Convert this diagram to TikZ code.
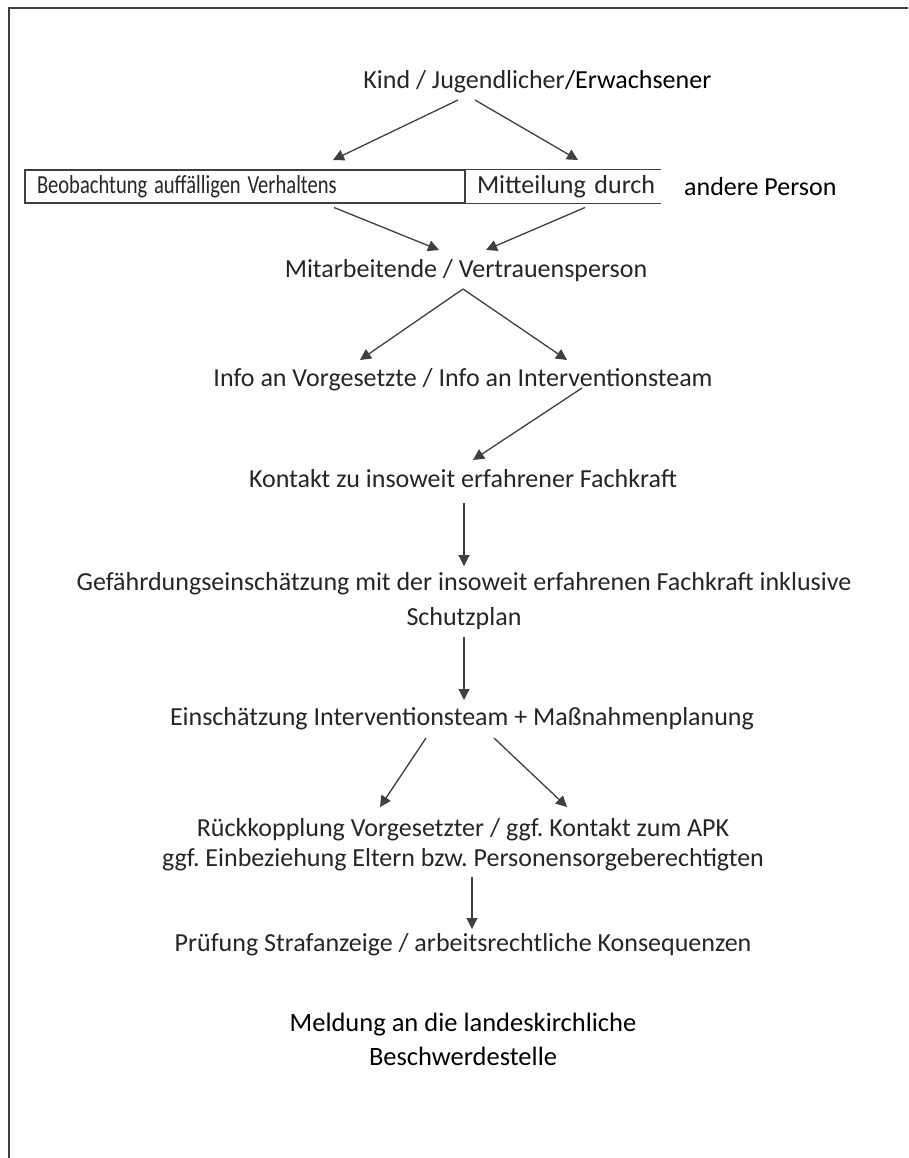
\documentclass[tikz,border=0pt]{standalone}
\usepackage{fontspec}
\usepackage{graphicx}
\setmainfont{Carlito}
\frenchspacing
\usetikzlibrary{arrows.meta}
\definecolor{ink}{HTML}{262626}
\definecolor{linegray}{HTML}{404040}

\begin{document}
\begin{tikzpicture}[
    x=1pt, y=-1pt,
    every node/.style={inner sep=0pt, text=ink},
    txt/.style={font=\fontsize{26}{31}\selectfont, align=center},
    boxtxt/.style={font=\fontsize{26}{30}\selectfont},
    arr/.style={linegray, line width=1.3pt, -{Triangle[length=11pt,width=11pt]}},
    frame/.style={linegray, line width=1.5pt},
  ]
  \useasboundingbox (0,0) rectangle (908,1158);
  % outer frame, open to the right and bottom
  \draw[frame] (908,8) -- (9,8) -- (9,1158);

  \node[txt, anchor=base east] (kind) at (565,89) {Kind / Jugendlicher};
  \node[txt, text=black, anchor=base west] (erw) at (kind.base east) {/Erwachsener};

  % split box
  \node[boxtxt, draw=linegray, line width=1.2pt, minimum width=440pt, minimum height=33pt,
        text width=428pt, inner xsep=6pt, align=left] (beob) at (245,186.5)
        {\hspace*{6pt}\scalebox{0.79}[1]{Beobachtung auffälligen Verhaltens}};
  \node[boxtxt, minimum width=196pt, minimum height=33pt,
        text width=186pt, inner xsep=5pt, align=left] (mitt) at (563,186.5)
        {\hspace*{7pt}Mitteilung durch};
  \draw[linegray, line width=1.2pt] (mitt.north west) -- (mitt.north east);
  \draw[linegray, line width=1.2pt] (mitt.south west) -- (mitt.south east);
  \node[boxtxt, text=black, anchor=west] (andere) at (684,187) {andere Person};

  \node[txt] (mitarb) at (466,271) {Mitarbeitende / Vertrauensperson};
  \node[txt] (info) at (463,380) {Info an Vorgesetzte / Info an Interventionsteam};
  \node[txt] (kontakt) at (463,479) {Kontakt zu insoweit erfahrener Fachkraft};
  \node[txt, font=\fontsize{26}{35}\selectfont] (gefahr) at (464,601)
        {Gefährdungseinschätzung mit der insoweit erfahrenen Fachkraft inklusive\\Schutzplan};
  \node[txt] (einsch) at (462,719) {Einschätzung Interventionsteam + Maßnahmenplanung};
  \node[txt, font=\fontsize{26}{30}\selectfont] (rueck) at (463,845)
        {Rückkopplung Vorgesetzter / ggf. Kontakt zum APK\\ggf. Einbeziehung Eltern bzw. Personensorgeberechtigten};
  \node[txt] (pruef) at (463,945) {Prüfung Strafanzeige / arbeitsrechtliche Konsequenzen};
  \node[txt, font=\fontsize{26.5}{34}\selectfont, text=black] (meldung) at (463,1039)
        {Meldung an die landeskirchliche\\Beschwerdestelle};

  % arrows
  \draw[arr] ([shift={(-107,11)}]kind.base east) -- ([shift={(88,-26.5)}]beob.center);
  \draw[arr] ([shift={(-90,11)}]kind.base east) -- ([shift={(15,-26.5)}]mitt.center);
  \draw[arr] ([shift={(89,21)}]beob.center) -- ([shift={(-27,-21)}]mitarb.center);
  \draw[arr] ([shift={(22,21)}]mitt.center) -- ([shift={(20,-21)}]mitarb.center);
  \draw[arr] ([shift={(-3,18)}]mitarb.center) -- ([shift={(-103,-20)}]info.center);
  \draw[arr] ([shift={(-3,18)}]mitarb.center) -- ([shift={(104,-20)}]info.center);
  \draw[arr] ([shift={(119,8)}]info.center) -- ([shift={(10,-19)}]kontakt.center);
  \draw[arr] ([shift={(1,24)}]kontakt.center) -- ([shift={(0,-35)}]gefahr.center);
  \draw[arr] ([shift={(0,36)}]gefahr.center) -- ([shift={(2,-19)}]einsch.center);
  \draw[arr] ([shift={(-36,19)}]einsch.center) -- ([shift={(-83,-38)}]rueck.center);
  \draw[arr] ([shift={(32,19)}]einsch.center) -- ([shift={(104,-38)}]rueck.center);
  \draw[arr] ([shift={(9,32)}]rueck.center) -- ([shift={(9,-16)}]pruef.center);
\end{tikzpicture}
\end{document}
